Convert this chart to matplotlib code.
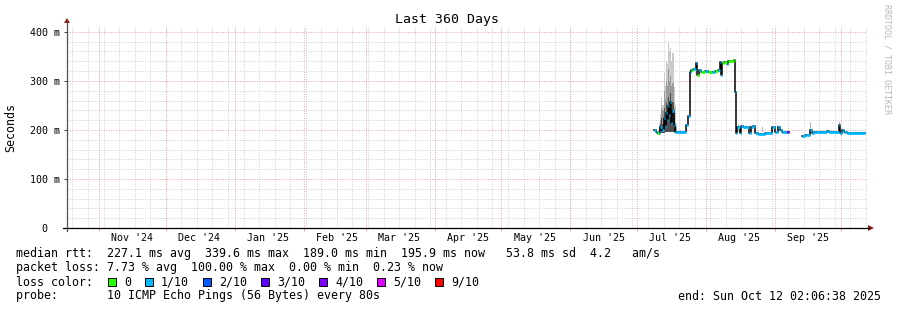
import numpy as np
import pandas as pd
import matplotlib
matplotlib.use("Agg")
import matplotlib.pyplot as plt
import matplotlib.dates as mdates
from matplotlib.patches import Rectangle, Polygon
from matplotlib.lines import Line2D

# median rtt steps (start time, ms, loss index); NaN closes a segment
med_times = [
    "2025-07-08 12:00", "2025-07-09 12:00", "2025-07-10 00:00", "2025-07-11 00:00",
    "2025-07-11 12:00", "2025-07-12 12:00", "2025-07-13 00:00", "2025-07-13 12:00",
    "2025-07-14 00:00", "2025-07-14 12:00", "2025-07-15 00:00", "2025-07-15 12:00",
    "2025-07-16 00:00", "2025-07-16 12:00", "2025-07-17 00:00", "2025-07-17 12:00",
    "2025-07-18 00:00", "2025-07-23 00:00", "2025-07-24 00:00", "2025-07-24 18:00",
    "2025-07-25 12:00", "2025-07-26 06:00", "2025-07-27 12:00", "2025-07-28 06:00",
    "2025-07-29 00:00", "2025-07-30 00:00", "2025-07-31 12:00", "2025-08-02 00:00",
    "2025-08-04 00:00", "2025-08-05 00:00", "2025-08-06 12:00", "2025-08-07 06:00",
    "2025-08-07 18:00", "2025-08-08 06:00", "2025-08-09 00:00", "2025-08-10 12:00",
    "2025-08-11 00:00", "2025-08-13 12:00", "2025-08-14 00:00", "2025-08-14 18:00",
    "2025-08-15 06:00", "2025-08-16 06:00", "2025-08-16 18:00", "2025-08-17 18:00",
    "2025-08-19 00:00", "2025-08-20 06:00", "2025-08-21 06:00", "2025-08-22 06:00",
    "2025-08-23 06:00", "2025-08-24 12:00", "2025-08-27 12:00", "2025-08-30 18:00",
    "2025-09-01 06:00", "2025-09-02 12:00", "2025-09-03 06:00", "2025-09-04 06:00",
    "2025-09-06 12:00", "2025-09-07 06:00",
    "2025-09-13 12:00", "2025-09-14 12:00", "2025-09-15 12:00", "2025-09-17 00:00",
    "2025-09-17 18:00", "2025-09-18 12:00", "2025-09-22 00:00", "2025-09-24 12:00",
    "2025-09-25 06:00", "2025-09-30 00:00", "2025-09-30 12:00", "2025-10-01 12:00",
    "2025-10-02 06:00", "2025-10-03 12:00", "2025-10-11 20:00",
]
med_ms = [
    200, 195, 194, 196,
    207, 200, 225, 208,
    235, 220, 248, 231,
    258, 215, 238, 210,
    196, 210, 229, 319,
    322, 324, 337, 312,
    322, 318, 320, 319,
    318, 320, 322, 338,
    312, 336, 338, 335,
    340, 342, 277, 193,
    205, 193, 208, 205,
    207, 193, 206, 208,
    193, 192, 194, 206,
    196, 205, 200, 196,
    195, np.nan,
    188, 189, 190, 200,
    193, 195, 195, 198,
    195, 210, 194, 200,
    196, 194, np.nan,
]
med_loss = [
    1, 1, 0, 1,
    1, 1, 1, 1,
    1, 1, 1, 1,
    1, 1, 1, 1,
    1, 1, 1, 1,
    0, 1, 1, 0,
    1, 0, 1, 0,
    1, 0, 1, 1,
    1, 0, 0, 1,
    0, 0, 1, 1,
    1, 1, 1, 1,
    1, 1, 1, 1,
    1, 1, 1, 1,
    1, 1, 1, 1,
    3, 0,
    1, 1, 1, 1,
    1, 1, 1, 1,
    1, 1, 1, 1,
    1, 1, 0,
]

# smoke around the July spike (ms)
smoke_times = [
    "2025-07-11 00:00", "2025-07-11 12:00", "2025-07-12 00:00", "2025-07-12 12:00",
    "2025-07-13 00:00", "2025-07-13 12:00", "2025-07-14 00:00", "2025-07-14 12:00",
    "2025-07-15 00:00", "2025-07-15 12:00", "2025-07-16 00:00", "2025-07-16 12:00",
    "2025-07-17 00:00", "2025-07-17 12:00", "2025-07-18 00:00", "2025-07-18 12:00",
    "2025-07-19 00:00",
]
smoke_lo = [190, 192, 193, 194, 194, 195, 195, 195, 195, 195, 195, 195, 195, 195, 194, 194, 194]
smoke_in = [200, 212, 225, 212, 245, 225, 255, 240, 268, 250, 275, 240, 258, 225, 205, 198, 198]
smoke_mid = [205, 220, 245, 240, 280, 262, 300, 290, 325, 300, 310, 290, 295, 245, 215, 205, 205]
smoke_hi = [215, 232, 265, 250, 316, 290, 340, 335, 380, 360, 367, 340, 356, 288, 250, 212, 212]

# faint single smoke spikes elsewhere (ms)
faint_times = ["2025-08-15 12:00", "2025-08-21 00:00", "2025-08-26 12:00", "2025-09-02 00:00",
               "2025-09-17 00:00", "2025-09-30 00:00"]
faint_hi = [212, 211, 207, 210, 216, 217]

loss_colors = ["#26ff00", "#00b8ff", "#0059ff", "#5e00ff", "#7e00ff", "#dd00ff", "#ff0000"]
loss_labels = ["0", "1/10", "2/10", "3/10", "4/10", "5/10", "9/10"]

month_labels = ["Nov '24", "Dec '24", "Jan '25", "Feb '25", "Mar '25", "Apr '25",
                "May '25", "Jun '25", "Jul '25", "Aug '25", "Sep '25"]
y_ticks = [0, 0.1, 0.2, 0.3, 0.4]
y_labels = ["0  ", "100 m", "200 m", "300 m", "400 m"]

line_rtt = "median rtt:  227.1 ms avg  339.6 ms max  189.0 ms min  195.9 ms now   53.8 ms sd  4.2   am/s"
line_loss = "packet loss: 7.73 % avg  100.00 % max  0.00 % min  0.23 % now"
line_probe = "probe:       10 ICMP Echo Pings (56 Bytes) every 80s"
line_end = "end: Sun Oct 12 02:06:38 2025"

MONO = "DejaVu Sans Mono"
W, H = 897, 310


def fx(px):
    return px / W


def fy(py):
    return 1 - py / H


def to_num(ts):
    return mdates.date2num(pd.to_datetime(ts).to_pydatetime())


fig = plt.figure(figsize=(W / 100, H / 100), dpi=100)
ax = fig.add_axes([fx(67), fy(228), fx(867) - fx(67), fy(26) - fy(228)])

x0 = to_num(["2024-10-17 13:00"])[0]
x1 = to_num(["2025-10-12 13:00"])[0]
ax.set_xlim(x0, x1)
ax.set_ylim(0, 0.412)

# grid
minor_c = "#cfcfcf"
major_c = "#eda0a0"
dots = (0, (1, 1.5))
for w in to_num(pd.date_range("2024-10-20", "2025-10-12", freq="7D")):
    ax.axvline(w, color=minor_c, lw=0.7, ls=dots, zorder=0)
for yv in np.arange(0.02, 0.412, 0.02):
    if abs(yv * 10 - round(yv * 10)) > 1e-6:
        ax.axhline(yv, color=minor_c, lw=0.7, ls=dots, zorder=0)
month_starts = to_num(pd.date_range("2024-11-01", "2025-10-01", freq="MS"))
for m in month_starts:
    ax.axvline(m, color=major_c, lw=0.7, ls=dots, zorder=0.5)
for yv in y_ticks[1:]:
    ax.axhline(yv, color=major_c, lw=0.7, ls=dots, zorder=0.5)

# smoke
st = to_num(smoke_times)
s_lo = np.array(smoke_lo) / 1000
ax.fill_between(st, s_lo, np.array(smoke_hi) / 1000, step="post", color="#cbcbcb", lw=0, zorder=1)
ax.fill_between(st, s_lo, np.array(smoke_mid) / 1000, step="post", color="#9a9a9a", lw=0, zorder=1.1)
ax.fill_between(st, s_lo, np.array(smoke_in) / 1000, step="post", color="#505050", lw=0, zorder=1.2)

ft = to_num(faint_times)
fh = np.array(faint_hi) / 1000
ax.bar(ft, fh - 0.195, bottom=0.195, width=0.45, align="edge", color="#b8b8b8", lw=0, zorder=1)

# median line
mt = to_num(med_times)
mv = np.array(med_ms, dtype=float) / 1000
ax.step(mt, mv, where="post", color="black", lw=1.1, zorder=2)
for i in range(len(mt) - 1):
    if not np.isnan(mv[i]):
        ax.hlines(mv[i], mt[i], mt[i + 1], color=loss_colors[med_loss[i]], lw=2.0, zorder=3)

# axes and ticks
for s in ax.spines.values():
    s.set_visible(False)
ax.set_yticks(y_ticks)
ax.set_yticklabels(y_labels, fontfamily=MONO, fontsize=7.2)
ax.tick_params(axis="y", length=2.5, width=0.7, color="#404040", pad=2.4)
ax.set_xticks(month_starts)
ax.set_xticklabels([])
ax.tick_params(axis="x", length=2, width=0.7, color=major_c, direction="out")
for lab, m in zip(month_labels, month_starts):
    ax.text(m + 15, -0.02, lab, ha="center", va="center", fontfamily=MONO, fontsize=7.2,
            transform=ax.transData, clip_on=False)

arrow_c = "#8b1c1c"
fig.add_artist(Line2D([fx(63), fx(869)], [fy(228), fy(228)], color="black", lw=0.9))
fig.add_artist(Line2D([fx(67), fx(67)], [fy(231), fy(22)], color="#505050", lw=0.9))
fig.add_artist(Polygon([(fx(868), fy(225)), (fx(874), fy(228)), (fx(868), fy(231))],
                       closed=True, color=arrow_c, lw=0))
fig.add_artist(Polygon([(fx(64), fy(23)), (fx(67), fy(18)), (fx(70), fy(23))],
                       closed=True, color=arrow_c, lw=0))

# texts
fig.text(fx(447), fy(19), "Last 360 Days", ha="center", va="center", fontfamily=MONO, fontsize=9.5)
fig.text(fx(11), fy(127), "Seconds", ha="center", va="center", rotation=90, fontfamily=MONO, fontsize=8.4)
fig.text(fx(887), fy(59), "RRDTOOL / TOBI OETIKER", ha="center", va="center", rotation=-90,
         fontfamily=MONO, fontsize=6, color="#b8b8b8")

fig.text(fx(16), fy(254), line_rtt, ha="left", va="center", fontfamily=MONO, fontsize=8.4)
fig.text(fx(16), fy(268), line_loss, ha="left", va="center", fontfamily=MONO, fontsize=8.4)
fig.text(fx(16), fy(282), "loss color:", ha="left", va="center", fontfamily=MONO, fontsize=8.4)
fig.text(fx(16), fy(296), line_probe, ha="left", va="center", fontfamily=MONO, fontsize=8.4)
fig.text(fx(881), fy(296), line_end, ha="right", va="center", fontfamily=MONO, fontsize=8.4)

box_x = [108, 145, 203, 261, 319, 377, 435]
for bx, col, lab in zip(box_x, loss_colors, loss_labels):
    fig.add_artist(Rectangle((fx(bx), fy(286)), 8 / W, 8 / H, facecolor=col,
                             edgecolor="black", lw=0.7))
    fig.text(fx(bx + 16), fy(282), lab, ha="left", va="center", fontfamily=MONO, fontsize=8.4)

fig.savefig("out.png", dpi=100)
